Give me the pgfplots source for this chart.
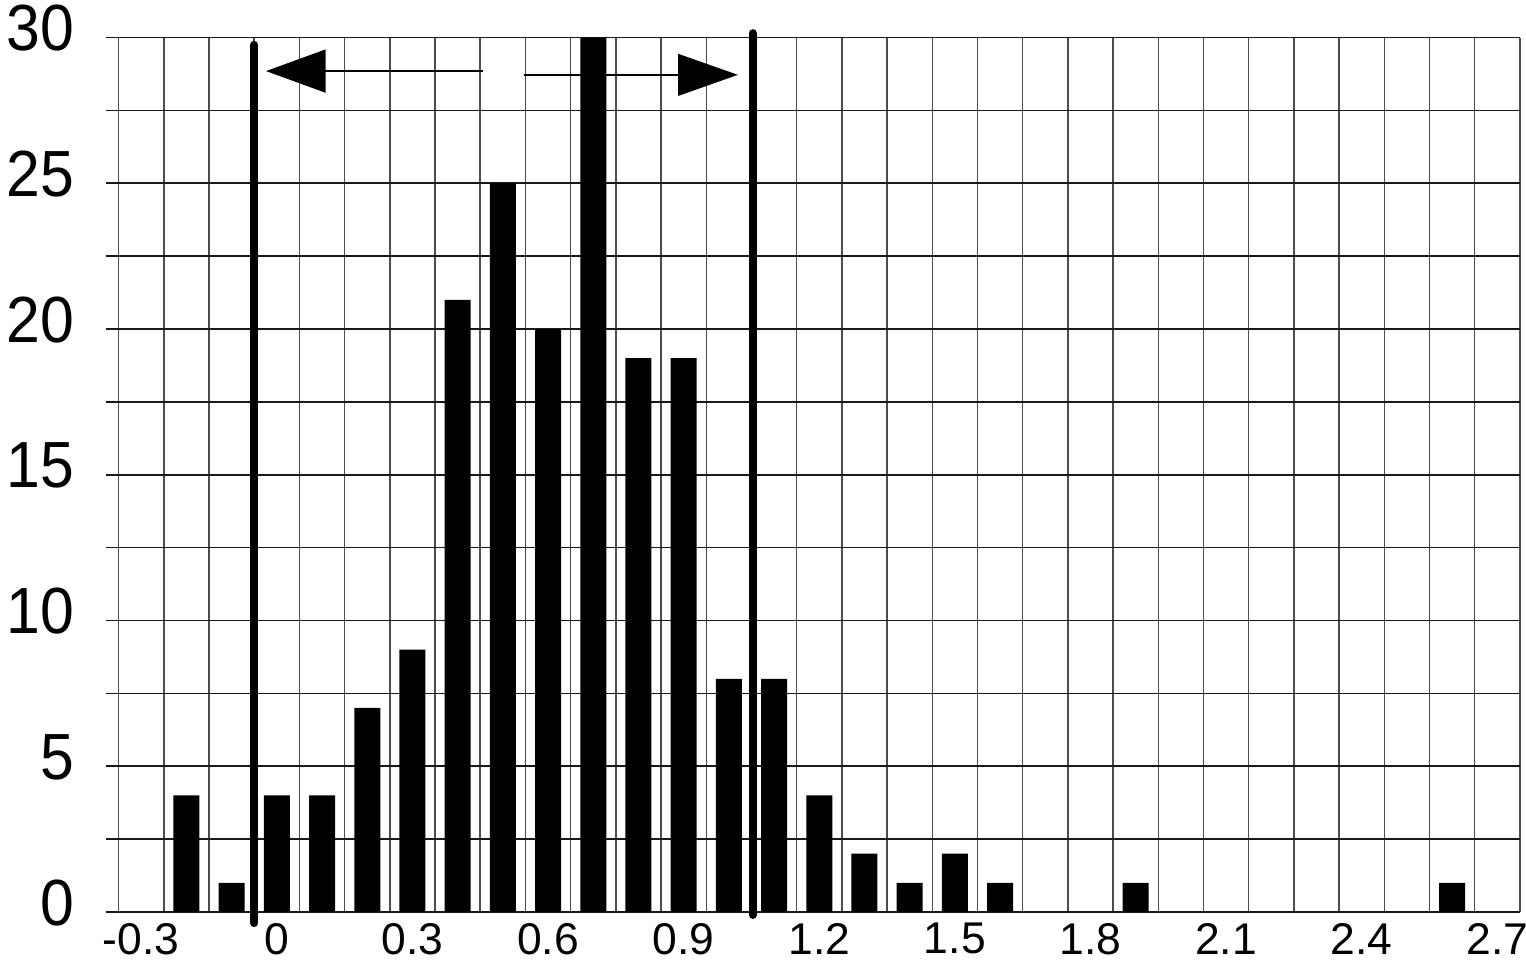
\documentclass[border=0pt]{standalone}
\usepackage{pgfplots}
\pgfplotsset{compat=1.18}
\usepackage{fontspec}
\setmainfont{Liberation Sans}
\usetikzlibrary{arrows.meta}
\begin{document}
\begin{tikzpicture}
\begin{axis}[
  scale only axis,
  width=509.0pt, height=314.8pt,
  xmin=-0.378, xmax=2.75, ymin=0, ymax=30,
  clip=false,
  axis line style={draw=none},
  xtick={-0.3,0,0.3,0.6,0.9,1.2,1.5,1.8,2.1,2.4,2.7},
  xticklabels={-0.3,0,0.3,0.6,0.9,1.2,1.5,1.8,2.1,2.4,2.7},
  ytick={0,5,10,15,20,25,30},
  yticklabels={0,5,10,15,20,25,30},
  minor xtick={-0.35,-0.25,-0.15,-0.05,0.05,0.15,0.25,0.35,0.45,0.55,0.65,0.75,0.85,0.95,1.05,1.15,1.25,1.35,1.45,1.55,1.65,1.75,1.85,1.95,2.05,2.15,2.25,2.35,2.45,2.55,2.65,2.75},
  minor ytick={0,2.5,5,7.5,10,12.5,15,17.5,20,22.5,25,27.5,30},
  grid=minor,
  minor x grid style={black!70, line width=0.55pt},
  minor y grid style={black!90, line width=0.6pt},
  major tick length=0pt, minor tick length=0pt,
  /pgf/number format/assume math mode=true,
  xticklabel style={font=\fontsize{16}{16}\selectfont, anchor=north, inner sep=0pt, yshift=-3.8pt},
  yticklabel style={font=\fontsize{23.5}{23.5}\selectfont, anchor=east, inner sep=0pt, xscale=0.93, xshift=-12.2pt, yshift=3.3pt},
]
\addplot[ybar, bar width=0.0575, fill=black, draw=none] coordinates {
  (-0.2,4) (-0.1,1) (0,4) (0.1,4) (0.2,7) (0.3,9) (0.4,21) (0.5,25) (0.6,20)
  (0.7,30) (0.8,19) (0.9,19) (1.0,8) (1.1,8) (1.2,4) (1.3,2) (1.4,1) (1.5,2)
  (1.6,1) (1.9,1) (2.6,1)
};
\addplot[line width=2.9pt, line cap=round] coordinates {(-0.05,29.75) (-0.05,-0.38)};
\addplot[line width=2.9pt, line cap=round] coordinates {(1.053,30.15) (1.053,-0.1)};
\draw[line width=0.6pt, -{Triangle[length=21.5pt,width=15.5pt]}] (axis cs:0.457,28.85) -- (axis cs:-0.024,28.85);
\draw[line width=0.6pt, -{Triangle[length=21.5pt,width=15pt]}] (axis cs:0.547,28.72) -- (axis cs:1.02,28.72);
\end{axis}
\pgfresetboundingbox
\useasboundingbox (-38.16pt,-17.64pt) rectangle (511.2pt,328.32pt);
\end{tikzpicture}
\end{document}
